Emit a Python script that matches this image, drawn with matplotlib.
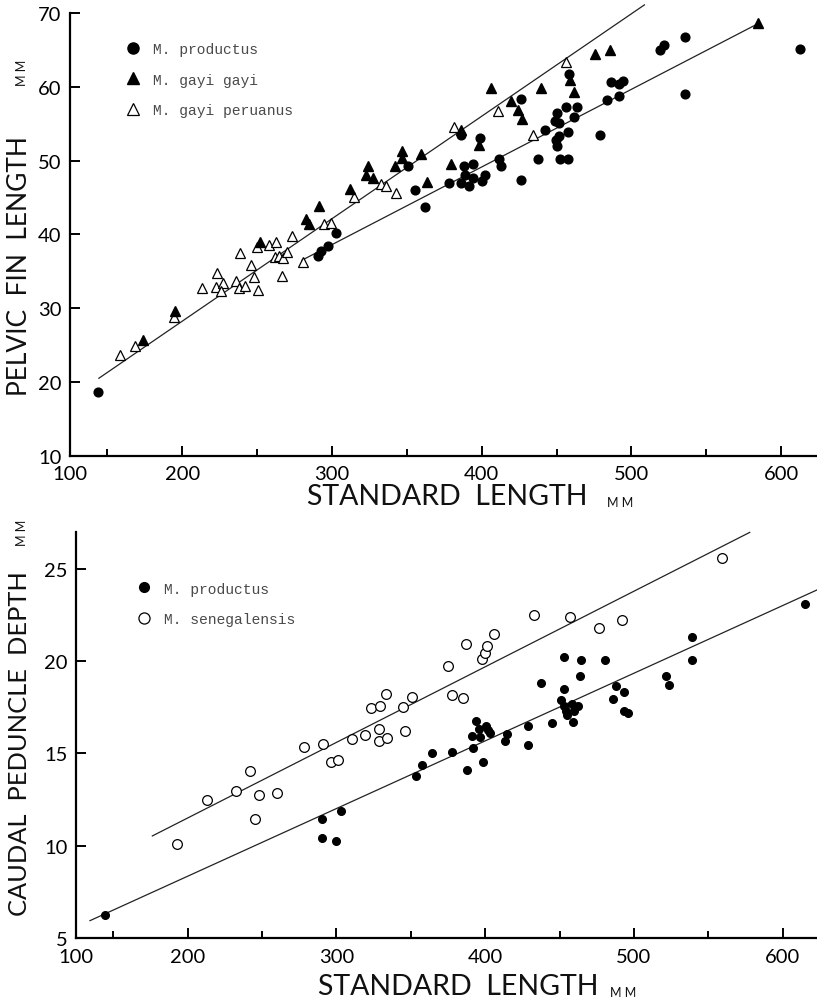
import matplotlib
matplotlib.use("Agg")
import matplotlib.pyplot as plt
from matplotlib.lines import Line2D

W, H = 817, 1004

# --- pelvic fin length vs standard length ---
prod_sl = [143.7, 290.4, 292.6, 297.1, 302.5, 351.0, 355.5, 362.4, 378.3, 386.1,
           386.1, 388.5, 389.0, 391.4, 394.1, 394.5, 399.0, 400.5, 402.3, 411.9,
           413.0, 426.4, 426.4, 437.3, 442.5, 452.0, 457.6, 450.3, 449.8, 451.8,
           457.4, 449.2, 451.4, 450.3, 456.3, 461.4, 463.7, 458.5, 479.3, 483.7,
           486.4, 492.0, 492.0, 494.4, 519.4, 521.6, 535.5, 535.7, 612.4]
prod_pelvic = [18.7, 37.1, 37.8, 38.45, 40.2, 49.2, 46.0, 43.7, 47.0, 53.4,
               47.0, 49.3, 48.1, 46.5, 49.6, 47.6, 53.1, 47.2, 48.0, 50.2,
               49.3, 58.3, 47.3, 50.2, 54.2, 50.2, 50.2, 52.0, 52.8, 53.3,
               53.9, 55.3, 55.1, 56.4, 57.3, 55.85, 57.3, 61.7, 53.4, 58.2,
               60.7, 58.8, 60.4, 60.8, 65.0, 65.65, 66.8, 59.0, 65.1]

gayi_sl = [173.8, 195.4, 251.8, 282.6, 284.8, 291.3, 312.0, 324.3, 322.5, 327.6,
           342.1, 347.0, 347.0, 359.5, 363.8, 379.4, 386.1, 398.5, 406.4, 419.5,
           424.0, 426.9, 439.6, 459.2, 461.4, 475.9, 485.9, 584.8]
gayi_pelvic = [25.7, 29.6, 39.0, 42.1, 41.4, 43.8, 46.1, 49.3, 48.1, 47.6,
               49.2, 51.25, 50.3, 50.9, 47.1, 49.5, 54.2, 52.1, 59.8, 58.1,
               56.8, 55.7, 59.8, 60.9, 59.3, 64.5, 65.0, 68.6]

peru_sl = [158.2, 168.7, 194.3, 213.3, 223.5, 222.2, 226.9, 226.2, 238.3, 235.8,
           237.6, 241.6, 245.6, 248.0, 250.7, 250.0, 257.9, 262.3, 261.9, 264.8,
           267.4, 270.1, 266.4, 273.4, 280.4, 294.9, 299.1, 314.7, 332.8, 335.9,
           342.6, 381.6, 410.8, 434.2, 456.5]
peru_pelvic = [23.7, 24.9, 28.75, 32.7, 34.75, 32.8, 33.4, 32.3, 37.5, 33.7,
               32.7, 33.0, 35.9, 34.2, 32.5, 38.3, 38.55, 39.0, 36.9, 37.0,
               36.75, 37.6, 34.3, 39.8, 36.2, 41.4, 41.5, 45.1, 46.8, 46.6,
               45.6, 54.6, 56.7, 53.5, 63.4]

# fitted lines (end points)
gayi_fit_x = [144.3, 508.7]
gayi_fit_y = [20.5, 71.1]
prod_fit_x = [280.0, 585.0]
prod_fit_y = [36.5, 68.6]

# --- caudal peduncle depth vs standard length ---
prod2_sl = [144.5, 290.2, 290.2, 299.7, 303.2, 353.4, 357.5, 364.2, 377.7, 387.8,
            391.5, 391.1, 393.8, 395.6, 396.2, 398.5, 400.5, 401.9, 403.4, 413.0,
            414.7, 428.5, 428.8, 437.7, 444.9, 451.2, 453.2, 453.2, 453.2, 454.5,
            455.0, 458.4, 459.0, 459.9, 462.1, 464.4, 463.9, 480.8, 485.7, 487.7,
            493.1, 493.1, 495.8, 521.6, 523.8, 539.1, 539.1, 614.8]
prod2_caudal = [6.26, 11.47, 10.44, 10.26, 11.88, 13.77, 14.37, 15.04, 15.07, 14.1,
                15.31, 15.94, 16.78, 16.35, 15.88, 14.53, 16.48, 16.26, 16.12, 15.66,
                16.08, 16.51, 15.45, 18.82, 16.66, 17.92, 20.23, 18.5, 17.56, 17.29,
                17.07, 17.69, 16.71, 17.29, 17.59, 20.04, 19.18, 20.08, 17.96, 18.68,
                18.34, 17.32, 17.2, 19.22, 18.69, 21.29, 20.04, 23.09]

sene_sl = [193.1, 213.3, 232.6, 242.0, 245.4, 248.3, 260.4, 278.3, 290.7, 296.3,
           301.4, 310.8, 318.9, 323.4, 329.5, 333.3, 328.8, 328.3, 334.0, 344.5,
           346.3, 350.8, 375.0, 377.7, 385.0, 387.3, 397.8, 400.1, 401.2, 405.7,
           432.5, 456.8, 476.7, 492.0, 559.2]
sene_caudal = [10.1, 12.5, 12.96, 14.04, 11.47, 12.73, 12.88, 15.36, 15.49, 14.53,
               14.64, 15.76, 15.99, 17.47, 17.59, 18.23, 16.35, 15.66, 15.85, 17.52,
               16.2, 18.05, 19.72, 18.19, 18.01, 20.95, 20.12, 20.44, 20.8, 21.47,
               22.51, 22.42, 21.8, 22.24, 25.58]

sene_fit_x = [176.3, 577.8]
sene_fit_y = [10.53, 26.98]
prod2_fit_x = [134.4, 623.0]
prod2_fit_y = [5.94, 23.86]

x_major = [200, 300, 400, 500, 600]
x_minor = [150, 250, 350, 450, 550]

label_font = "Lato"
legend_font = "Liberation Mono"


def px_axes(left, top, right, bottom):
    return [left / W, 1 - bottom / H, (right - left) / W, (bottom - top) / H]


def style_axes(ax, xlim, ylim, yticks):
    ax.set_xlim(*xlim)
    ax.set_ylim(*ylim)
    for s in ("top", "right"):
        ax.spines[s].set_visible(False)
    for s in ("left", "bottom"):
        ax.spines[s].set_linewidth(1.6)
    # the origin carries the "100" label
    ax.set_xticks([xlim[0]] + x_major)
    ax.set_xticklabels(["100"] + [str(v) for v in x_major])
    ax.set_xticks(x_minor, minor=True)
    ax.set_yticks(yticks)
    ax.tick_params(axis="both", which="major", direction="in", length=7, width=1.4,
                   labelsize=14.5, pad=7)
    ax.tick_params(axis="x", which="minor", direction="in", length=5, width=1.4)
    ax.tick_params(axis="y", which="major", pad=6)
    ax.xaxis.get_major_ticks()[0].tick1line.set_markersize(0)
    for lab in ax.get_xticklabels() + ax.get_yticklabels():
        lab.set_fontfamily(label_font)


def ftext(x, y, s, **kw):
    fig.text(x / W, 1 - y / H, s, **kw)


fig = plt.figure(figsize=(W / 100, H / 100), dpi=100)

# top panel
ax1 = fig.add_axes(px_axes(70, 14, 817, 456.7))
ax1.plot(gayi_fit_x, gayi_fit_y, color="#222", lw=0.9, clip_on=False)
ax1.plot(prod_fit_x, prod_fit_y, color="#222", lw=0.9, clip_on=False)
ax1.plot(peru_sl, peru_pelvic, ls="none", marker="^", ms=7, mfc="white",
         mec="black", mew=0.9, clip_on=False)
ax1.plot(gayi_sl, gayi_pelvic, ls="none", marker="^", ms=7, mfc="black",
         mec="black", clip_on=False)
ax1.plot(prod_sl, prod_pelvic, ls="none", marker="o", ms=6.3, mfc="black",
         mec="black", clip_on=False)
style_axes(ax1, (125, 624), (10, 70), [10, 20, 30, 40, 50, 60, 70])

h1 = [Line2D([], [], ls="none", marker="o", ms=8, mfc="black", mec="black"),
      Line2D([], [], ls="none", marker="^", ms=9, mfc="black", mec="black"),
      Line2D([], [], ls="none", marker="^", ms=9, mfc="white", mec="black", mew=0.9)]
ax1.legend(h1, ["M. productus", "M. gayi gayi", "M. gayi peruanus"],
           loc="upper left", bbox_to_anchor=(0.074, 0.935), frameon=False,
           borderpad=0, borderaxespad=0, handlelength=1.0, handletextpad=0.9,
           labelspacing=1.15, prop={"family": legend_font, "size": 10.5},
           labelcolor="#4a4a4a")

# bottom panel
ax2 = fig.add_axes(px_axes(76, 533, 817, 939))
ax2.plot(sene_fit_x, sene_fit_y, color="#222", lw=0.9, clip_on=False)
ax2.plot(prod2_fit_x, prod2_fit_y, color="#222", lw=0.9, clip_on=False)
ax2.plot(sene_sl, sene_caudal, ls="none", marker="o", ms=7, mfc="white",
         mec="black", mew=0.9, clip_on=False)
ax2.plot(prod2_sl, prod2_caudal, ls="none", marker="o", ms=5.5, mfc="black",
         mec="black", clip_on=False)
style_axes(ax2, (125, 623), (5, 27), [5, 10, 15, 20, 25])

h2 = [Line2D([], [], ls="none", marker="o", ms=7, mfc="black", mec="black"),
      Line2D([], [], ls="none", marker="o", ms=8, mfc="white", mec="black", mew=0.9)]
ax2.legend(h2, ["M. productus", "M. senegalensis"],
           loc="upper left", bbox_to_anchor=(0.082, 0.878), frameon=False,
           borderpad=0, borderaxespad=0, handlelength=1.0, handletextpad=0.9,
           labelspacing=1.15, prop={"family": legend_font, "size": 10.5},
           labelcolor="#4a4a4a")

# axis titles
big = dict(family=label_font, fontsize=20.5, color="#111")
side = dict(family=label_font, fontsize=19, color="#111")
small = dict(family=label_font, fontsize=9, color="#111")
ftext(307, 497, "STANDARD  LENGTH", ha="left", va="center", **big)
ftext(607, 503, "M M", ha="left", va="center", **small)
ftext(318, 987, "STANDARD  LENGTH", ha="left", va="center", **big)
ftext(610, 993, "M M", ha="left", va="center", **small)
ftext(20, 396, "PELVIC  FIN  LENGTH", ha="center", va="bottom", rotation=90, **side)
ftext(22, 86, "M M", ha="center", va="bottom", rotation=90, **small)
ftext(20, 916, "CAUDAL  PEDUNCLE  DEPTH", ha="center", va="bottom", rotation=90,
      family=label_font, fontsize=18.3, color="#111")
ftext(22, 546, "M M", ha="center", va="bottom", rotation=90, **small)

fig.savefig("out.png", dpi=100)
